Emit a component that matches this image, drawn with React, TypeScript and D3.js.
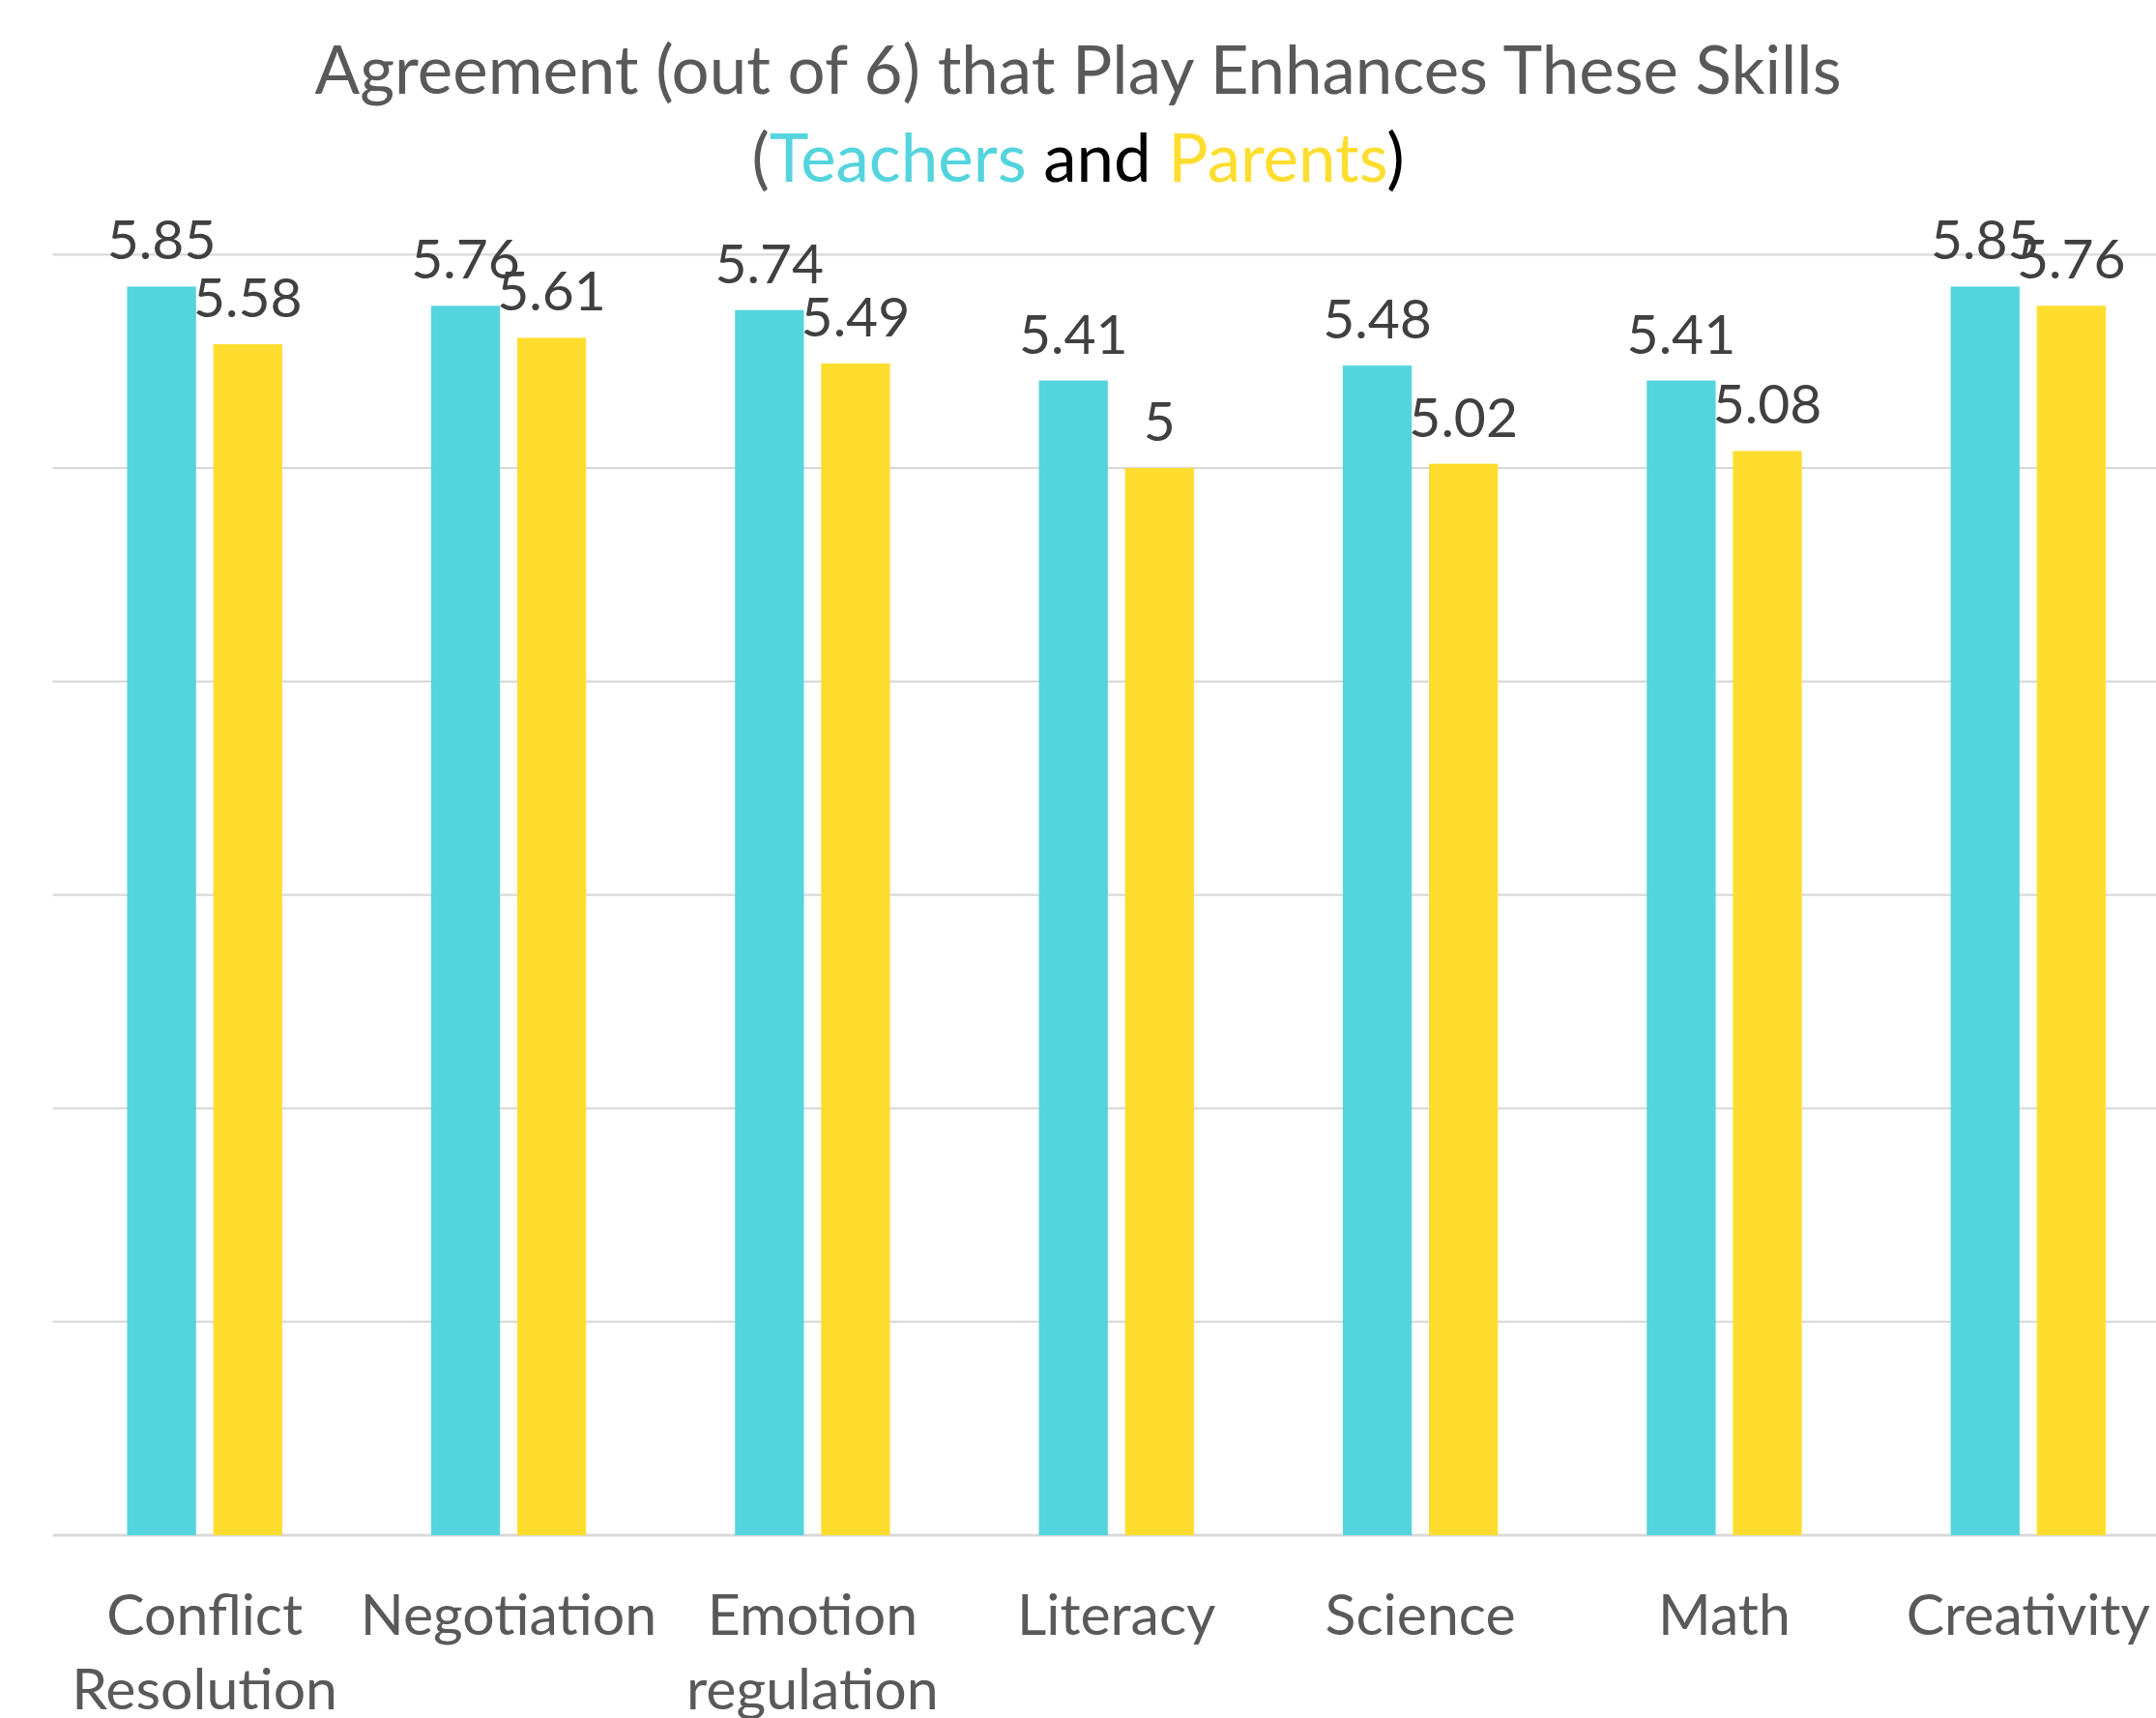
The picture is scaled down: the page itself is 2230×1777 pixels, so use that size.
import React from "react";
import * as d3 from "d3";

const categories = [
  ["Conflict", "Resolution"],
  ["Negotiation"],
  ["Emotion", "regulation"],
  ["Literacy"],
  ["Science"],
  ["Math"],
  ["Creativity"],
];
const seriesNames = ["Teachers", "Parents"];
const teachers = [5.85, 5.76, 5.74, 5.41, 5.48, 5.41, 5.85];
const parents = [5.58, 5.61, 5.49, 5.0, 5.02, 5.08, 5.76];
const yTicks = [0, 1, 2, 3, 4, 5, 6];

const W = 2230;
const H = 1777;
const COLORS = { Teachers: "#54D4DC", Parents: "#FFDD2F" };
const FONT = "Lato, 'Open Sans', sans-serif";

export default function App() {
  const keys = categories.map((c) => c.join(" "));
  const x = d3.scaleBand<string>().domain(keys).range([54.5, 2255]).padding(0);
  const y = d3.scaleLinear().domain([0, 6]).range([1588, 263.3]);
  const groupPad = 77;
  const xs = d3
    .scaleBand<string>()
    .domain(seriesNames)
    .range([groupPad, x.bandwidth() - groupPad])
    .paddingInner(0.2)
    .paddingOuter(0);
  const series = [
    { name: "Teachers", values: teachers },
    { name: "Parents", values: parents },
  ];
  const fmt = (v: number) => (Number.isInteger(v) ? String(v) : v.toFixed(2));

  return (
    <svg
      width={W}
      height={H}
      style={{ position: "absolute", left: 0, top: 0, background: "#fff" }}
      fontFamily={FONT}
    >
      <rect x={0} y={0} width={W} height={H} fill="#fff" />
      {yTicks.map((t) => (
        <line
          key={t}
          x1={x.range()[0]}
          x2={x.range()[1]}
          y1={y(t)}
          y2={y(t)}
          stroke="#D9D9D9"
          strokeWidth={t === 0 ? 3 : 2.2}
        />
      ))}
      {series.map((s) =>
        s.values.map((v, i) => {
          const bx = (x(keys[i]) as number) + (xs(s.name) as number);
          return (
            <rect
              key={s.name + i}
              x={bx}
              y={y(v)}
              width={xs.bandwidth()}
              height={y(0) - y(v)}
              fill={(COLORS as any)[s.name]}
            />
          );
        })
      )}
      {series.map((s) =>
        s.values.map((v, i) => {
          const bx = (x(keys[i]) as number) + (xs(s.name) as number);
          return (
            <text
              key={"l" + s.name + i}
              x={bx + xs.bandwidth() / 2}
              y={y(v) - 28}
              textAnchor="middle"
              fontSize={57}
              fill="#404040"
            >
              {fmt(v)}
            </text>
          );
        })
      )}
      {categories.map((c, i) =>
        c.map((line, j) => (
          <text
            key={"c" + i + j}
            x={(x(keys[i]) as number) + x.bandwidth() / 2}
            y={1690.7 + j * 77.3}
            textAnchor="middle"
            fontSize={59}
            fill="#595959"
          >
            {line}
          </text>
        ))
      )}
      <text x={W / 2} y={96.7} textAnchor="middle" fontSize={69} fill="#595959">
        Agreement (out of 6) that Play Enhances These Skills
      </text>
      <text x={W / 2} y={187.7} textAnchor="middle" fontSize={69} fill="#595959">
        <tspan>(</tspan>
        <tspan fill={COLORS.Teachers}>Teachers</tspan>
        <tspan fill="#000"> and </tspan>
        <tspan fill={COLORS.Parents}>Parents</tspan>
        <tspan fill="#000">)</tspan>
      </text>
    </svg>
  );
}
